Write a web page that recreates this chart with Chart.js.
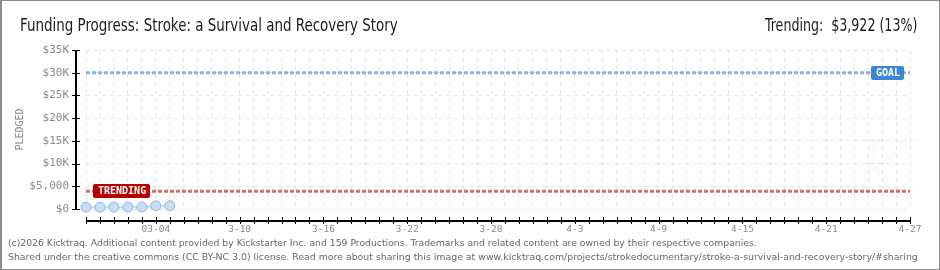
<!DOCTYPE html>
<html>
<head>
<meta charset="utf-8">
<script src="https://cdn.jsdelivr.net/npm/chart.js@4.4.1/dist/chart.umd.min.js"></script>
<style>
  html, body { margin: 0; padding: 0; background: #fff; }
  #wrap { position: relative; width: 940px; height: 270px; overflow: hidden; background: #fff; }
  #frame { position: absolute; left: 0; top: 0; right: 0; bottom: 0; border: 1px solid #8c8c8c; border-left-width: 2px; pointer-events: none; }
  #chart { position: absolute; left: 0; top: 0; }
  .txt { position: absolute; white-space: nowrap; }
  #title { left: 20px; top: 15px; line-height: 20px; font-size: 17px; font-family: "Liberation Sans Narrow", "DejaVu Sans Condensed", Roboto, sans-serif; color: #1a1a1a; transform-origin: left top; }
  #trend { right: 23px; top: 15px; line-height: 20px; font-size: 17px; font-family: "Liberation Sans Narrow", "DejaVu Sans Condensed", Roboto, sans-serif; color: #1a1a1a; transform-origin: right top; }
  .foot { left: 8px; line-height: 12px; font-size: 9.5px; font-family: "DejaVu Sans", sans-serif; color: #666; transform-origin: left top; }
  #mark { left: 852px; top: 122px; font: italic 84px "DejaVu Serif", serif; color: #fbfbfb; }
</style>
</head>
<body>
<div id="wrap">
  <div id="mark" class="txt">K</div>
  <canvas id="chart" width="940" height="270"></canvas>
  <div id="title" class="txt" data-w="378">Funding Progress: Stroke: a Survival and Recovery Story</div>
  <div id="trend" class="txt" data-w="152">Trending:&nbsp; $3,922 (13%)</div>
  <div class="txt foot" style="top:237px" data-w="749">(c)2026 Kicktraq. Additional content provided by Kickstarter Inc. and 159 Productions. Trademarks and related content are owned by their respective companies.</div>
  <div class="txt foot" style="top:251px" data-w="910">Shared under the creative commons (CC BY-NC 3.0) license. Read more about sharing this image at www.kicktraq.com/projects/strokedocumentary/stroke-a-survival-and-recovery-story/#sharing</div>
  <div id="frame"></div>
</div>
<script>
// campaign values (days counted from 02-27)
const GOAL = 30000;
const TRENDING = 3922;
const pledgedDays = [0, 1, 2, 3, 4, 5, 6];
const pledgedValues = [400, 400, 410, 420, 430, 700, 720];
const lastDay = 59;
const tickDays = [5, 11, 17, 23, 29, 35, 41, 47, 53, 59];
const tickLabels = ["03-04", "3-10", "3-16", "3-22", "3-28", "4-3", "4-9", "4-15", "4-21", "4-27"];
const yTickValues = [0, 5000, 10000, 15000, 20000, 25000, 30000, 35000];
const yTickLabels = ["$0", "$5,000", "$10K", "$15K", "$20K", "$25K", "$30K", "$35K"];

const MONO = '"DejaVu Sans Mono", monospace';

// squeeze text to the widths seen in the picture
document.querySelectorAll("[data-w]").forEach((el) => {
  const w = Number(el.dataset.w);
  el.style.transform = `scaleX(${w / el.offsetWidth})`;
});

function tag(ctx, text, x, y, color, alignRight) {
  ctx.save();
  ctx.font = `bold 10px ${MONO}`;
  const w = Math.round(ctx.measureText(text).width) + 9;
  const h = 14;
  const left = alignRight ? x - w : x;
  const top = Math.round(y - h / 2);
  ctx.fillStyle = color;
  ctx.beginPath();
  ctx.roundRect(left, top, w, h, 2);
  ctx.fill();
  ctx.fillStyle = "#fff";
  ctx.textBaseline = "middle";
  ctx.fillText(text, left + 5, top + h / 2 + 0.5);
  ctx.restore();
}

const axesPlugin = {
  id: "kAxes",
  afterDraw(chart) {
    const { ctx, chartArea } = chart;
    const xs = chart.scales.x;
    const ys = chart.scales.y;
    ctx.save();
    // y axis, pulled 10px left of the plot
    const ax = chartArea.left - 11;
    const yTop = ys.getPixelForValue(ys.max);
    const yBot = ys.getPixelForValue(0);
    ctx.fillStyle = "#000";
    ctx.fillRect(ax, Math.round(yTop), 2, Math.round(yBot - yTop) + 1);
    ys.ticks.forEach((t) => {
      const py = Math.round(ys.getPixelForValue(t.value));
      if (t.value % 5000 === 0) {
        ctx.fillStyle = "#000";
        ctx.fillRect(ax - 3, py, 8, 1);
      } else {
        ctx.fillStyle = "#e00000";
        ctx.fillRect(ax - 3, py, 3, 1);
      }
    });
    // x axis, pulled below the plot
    const ay = Math.round(chartArea.bottom) + 11;
    const x0 = Math.round(xs.getPixelForValue(0));
    const x1 = Math.round(xs.getPixelForValue(lastDay));
    ctx.fillStyle = "#000";
    ctx.fillRect(x0, ay, x1 - x0 + 1, 2);
    xs.ticks.forEach((t) => {
      const px = Math.round(xs.getPixelForValue(t.value));
      ctx.fillRect(px, ay - 3, 1, 7);
    });
    ctx.restore();
  },
  afterDatasetsDraw(chart) {
    const { ctx } = chart;
    const xs = chart.scales.x;
    const ys = chart.scales.y;
    tag(ctx, "TRENDING", Math.round(xs.getPixelForValue(0.5)), ys.getPixelForValue(TRENDING), "#b80000", false);
    tag(ctx, "GOAL", Math.round(xs.getPixelForValue(lastDay)) - 6, ys.getPixelForValue(GOAL), "#3b87d6", true);
  },
};

const ctx = document.getElementById("chart").getContext("2d");
new Chart(ctx, {
  type: "line",
  data: {
    datasets: [
      {
        label: "Pledged",
        data: pledgedDays.map((d, i) => ({ x: d, y: pledgedValues[i] })),
        borderColor: "#c6dcf4",
        borderWidth: 2,
        backgroundColor: "rgba(205,224,246,0.35)",
        fill: "origin",
        pointRadius: 5,
        pointBackgroundColor: "#c6ddf6",
        pointBorderColor: "#95b4d8",
        pointBorderWidth: 1,
        clip: false,
        order: 0,
      },
      {
        label: "Goal",
        data: [{ x: 0, y: GOAL }, { x: lastDay, y: GOAL }],
        borderColor: "#8fb1de",
        borderWidth: 3,
        borderDash: [4, 2],
        pointRadius: 0,
        clip: false,
        order: 1,
      },
      {
        label: "Trending",
        data: [{ x: 0, y: TRENDING }, { x: lastDay, y: TRENDING }],
        borderColor: "#d26e70",
        borderWidth: 3,
        borderDash: [4, 2],
        pointRadius: 0,
        clip: false,
        order: 1,
      },
    ],
  },
  options: {
    responsive: false,
    animation: false,
    devicePixelRatio: 1,
    layout: { padding: { left: 0, right: 30, top: 50, bottom: 21 } },
    plugins: { legend: { display: false }, tooltip: { enabled: false } },
    scales: {
      x: {
        type: "linear",
        min: 0,
        max: lastDay,
        afterFit: (s) => { s.height = 40; },
        grid: { color: "#e4e4e4", drawTicks: false },
        border: { display: false, dash: [4, 4] },
        ticks: {
          stepSize: 1,
          maxTicksLimit: 100,
          autoSkip: false,
          maxRotation: 0,
          minRotation: 0,
          padding: 15,
          color: "#8a8a8a",
          font: { family: MONO, size: 9.5 },
          callback: (v) => {
            const i = tickDays.indexOf(v);
            return i >= 0 ? tickLabels[i] : "";
          },
        },
      },
      y: {
        min: 0,
        max: 35000,
        afterFit: (s) => { s.width = 86; },
        grid: {
          drawTicks: false,
          color: (c) => (c.tick && c.tick.value % 5000 === 0 ? "#e4e4e4" : "rgba(0,0,0,0)"),
        },
        border: { display: false, dash: [4, 4] },
        title: {
          display: true,
          text: "PLEDGED",
          color: "#8a8a8a",
          font: { family: MONO, size: 10 },
          padding: { top: 14, bottom: 0 },
        },
        ticks: {
          stepSize: 2500,
          padding: 17,
          color: "#8a8a8a",
          font: { family: MONO, size: 11 },
          callback: (v) => {
            const i = yTickValues.indexOf(v);
            return i >= 0 ? yTickLabels[i] : "";
          },
        },
      },
    },
  },
  plugins: [axesPlugin],
});
</script>
</body>
</html>
